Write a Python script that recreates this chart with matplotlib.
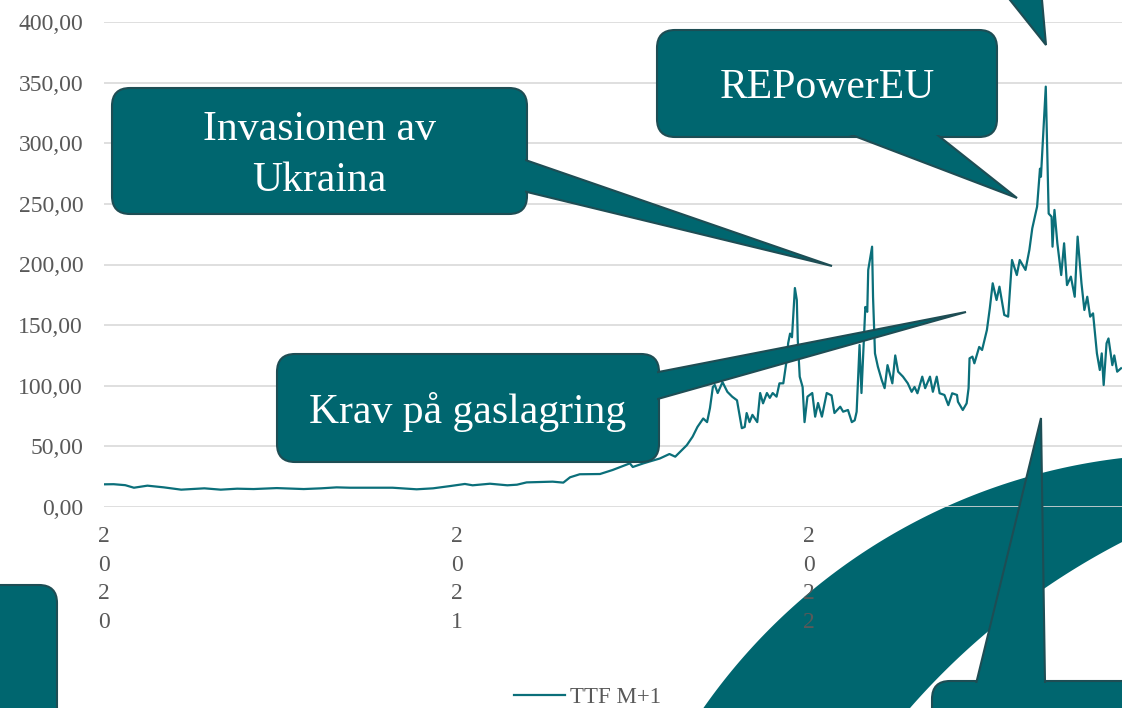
import numpy as np
import pandas as pd
import matplotlib
matplotlib.use("Agg")
import matplotlib.pyplot as plt
from matplotlib.patches import FancyBboxPatch, Polygon
from matplotlib.ticker import FuncFormatter

plt.rcParams['font.family'] = ['Liberation Serif', 'DejaVu Serif']

# --- data: TTF M+1 (EUR/MWh) ---
dates = [
    '2020-01-01', '2020-01-11', '2020-01-23', '2020-02-01', '2020-02-15', '2020-03-03',
    '2020-03-21', '2020-04-14', '2020-05-01', '2020-05-18', '2020-06-04', '2020-06-28',
    '2020-07-26', '2020-08-13', '2020-08-29', '2020-09-12', '2020-10-06', '2020-10-26',
    '2020-11-20', '2020-12-07', '2020-12-25', '2021-01-09', '2021-01-17', '2021-02-04',
    '2021-02-22', '2021-03-04', '2021-03-14', '2021-03-28', '2021-04-10', '2021-04-21',
    '2021-04-28', '2021-05-08', '2021-05-29', '2021-06-11', '2021-06-29', '2021-07-02',
    '2021-07-13', '2021-07-30', '2021-08-09', '2021-08-15', '2021-08-27', '2021-09-02',
    '2021-09-07', '2021-09-13', '2021-09-17', '2021-09-20', '2021-09-23', '2021-09-25',
    '2021-09-28', '2021-10-03', '2021-10-08', '2021-10-13', '2021-10-18', '2021-10-23',
    '2021-10-26', '2021-10-28', '2021-10-31', '2021-11-03', '2021-11-08', '2021-11-11',
    '2021-11-14', '2021-11-18', '2021-11-21', '2021-11-24', '2021-11-28', '2021-12-01',
    '2021-12-05', '2021-12-09', '2021-12-10', '2021-12-12', '2021-12-14', '2021-12-17',
    '2021-12-19', '2021-12-20', '2021-12-22', '2021-12-25', '2021-12-27', '2021-12-30',
    '2022-01-04', '2022-01-07', '2022-01-10', '2022-01-14', '2022-01-19', '2022-01-24',
    '2022-01-27', '2022-02-02', '2022-02-05', '2022-02-10', '2022-02-14', '2022-02-17',
    '2022-02-19', '2022-02-22', '2022-02-24', '2022-02-28', '2022-03-02', '2022-03-03',
    '2022-03-07', '2022-03-08', '2022-03-10', '2022-03-13', '2022-03-17', '2022-03-20',
    '2022-03-23', '2022-03-28', '2022-03-31', '2022-04-03', '2022-04-08', '2022-04-13',
    '2022-04-17', '2022-04-20', '2022-04-23', '2022-04-28', '2022-05-01', '2022-05-06',
    '2022-05-09', '2022-05-13', '2022-05-16', '2022-05-21', '2022-05-25', '2022-05-29',
    '2022-06-03', '2022-06-04', '2022-06-09', '2022-06-13', '2022-06-15', '2022-06-16',
    '2022-06-19', '2022-06-21', '2022-06-26', '2022-06-29', '2022-07-04', '2022-07-07',
    '2022-07-10', '2022-07-14', '2022-07-17', '2022-07-22', '2022-07-26', '2022-07-30',
    '2022-08-04', '2022-08-07', '2022-08-13', '2022-08-17', '2022-08-20', '2022-08-25',
    '2022-08-28', '2022-08-29', '2022-09-03', '2022-09-06', '2022-09-09', '2022-09-10',
    '2022-09-12', '2022-09-15', '2022-09-19', '2022-09-22', '2022-09-25', '2022-09-29',
    '2022-10-03', '2022-10-06', '2022-10-10', '2022-10-13', '2022-10-16', '2022-10-19',
    '2022-10-22', '2022-10-26', '2022-10-29', '2022-10-31', '2022-11-02', '2022-11-05',
    '2022-11-07', '2022-11-11', '2022-11-13', '2022-11-16', '2022-11-20',
]
ttf = [
    18.7, 18.8, 18.0, 15.9, 17.6, 16.2,
    14.3, 15.4, 14.3, 15.1, 14.8, 15.6,
    14.8, 15.4, 16.2, 15.9, 15.9, 15.9,
    14.6, 15.4, 17.3, 19.0, 17.9, 19.2,
    17.9, 18.4, 20.3, 20.6, 20.9, 20.1,
    24.5, 27.0, 27.2, 30.5, 36.0, 33.0,
    36.0, 40.0, 43.7, 41.5, 51.0, 58.0,
    66.0, 73.0, 70.0, 81.6, 99.0, 100.6,
    94.0, 103.0, 95.0, 91.0, 88.0, 65.0,
    66.0, 77.5, 70.0, 76.0, 70.0, 94.0,
    85.5, 94.0, 90.0, 94.0, 91.0, 102.0,
    102.0, 124.0, 135.0, 143.0, 140.0, 180.6,
    170.7, 137.7, 107.5, 99.0, 70.0, 91.0,
    94.0, 74.5, 85.8, 74.5, 94.0, 92.0,
    77.5, 82.7, 78.6, 80.0, 70.0, 71.5,
    78.6, 133.6, 94.0, 165.0, 161.0, 195.5,
    214.7, 173.0, 126.7, 115.7, 104.7, 98.0,
    117.0, 102.0, 125.0, 111.6, 107.5, 102.0,
    95.0, 99.0, 93.8, 107.5, 98.0, 107.5,
    95.0, 107.5, 93.8, 92.4, 84.0, 93.8,
    92.4, 86.8, 80.0, 85.5, 98.0, 122.6,
    124.0, 118.5, 132.0, 129.5, 146.0, 163.9,
    184.5, 170.7, 181.7, 158.4, 157.0, 203.7,
    191.3, 203.7, 195.5, 212.0, 229.8, 247.7,
    279.0, 272.4, 346.7, 242.0, 239.4, 214.7,
    245.0, 217.5, 191.3, 217.5, 183.0, 190.0,
    173.4, 223.0, 184.5, 162.5, 173.4, 157.0,
    159.7, 126.7, 113.0, 126.7, 100.6, 135.0,
    139.0, 117.0, 125.0, 111.6, 114.4,
]
year_ticks = ['2020', '2021', '2022']
series_name = 'TTF M+1'

TEAL = '#00666f'
EDGE = '#1e4d54'
LINE = '#0b6f7a'
GREY = '#595959'
W, H = 1122, 708


def callout(ax, x0, y0, x1, y1, tail=None, text=None, r=18):
    """rounded box + wedge tail, in pixel coords of the overlay axes"""
    style = f"round,pad=0,rounding_size={r}"
    ax.add_patch(FancyBboxPatch((x0, y0), x1 - x0, y1 - y0, boxstyle=style,
                                fc=TEAL, ec=EDGE, lw=1.5, zorder=1))
    if tail is not None:
        ax.add_patch(Polygon(tail, closed=True, fc=TEAL, ec=EDGE, lw=1.5,
                             joinstyle='miter', zorder=2))
        # cover the tail edges that fall inside the box
        ax.add_patch(FancyBboxPatch((x0 + 2, y0 + 2), x1 - x0 - 4, y1 - y0 - 4,
                                    boxstyle=f"round,pad=0,rounding_size={r - 2}",
                                    fc=TEAL, ec='none', zorder=3))
    if text:
        ax.text((x0 + x1) / 2, (y0 + y1) / 2 + 4, text, ha='center', va='center',
                color='white', fontsize=30, linespacing=1.44, zorder=4)


fig = plt.figure(figsize=(W / 100, H / 100), dpi=100, facecolor='white')

# background layer (the big arc sits behind the chart)
ax_bg = fig.add_axes([0, 0, 1, 1], zorder=0)
ax_bg.set_xlim(0, W)
ax_bg.set_ylim(H, 0)
ax_bg.axis('off')
t_out = np.radians(np.linspace(80, 152, 120))
t_in = np.radians(np.linspace(147, 100, 120))
arc = np.vstack([
    np.column_stack([1191 + 595 * np.cos(t_out), 1049 - 595 * np.sin(t_out)]),
    np.column_stack([1452 + 720 * np.cos(t_in), 1182 - 720 * np.sin(t_in)]),
])
ax_bg.add_patch(Polygon(arc, closed=True, fc=TEAL, ec='none'))

# the chart itself
ax = fig.add_axes([104 / W, 1 - 507 / H, (W - 104) / W, (507 - 22) / H], zorder=1)
ax.set_facecolor('none')
x = pd.to_datetime(dates)
ax.plot(x, ttf, color=LINE, lw=1.6, label=series_name, zorder=3)

ax.set_ylim(0, 400)
ax.set_yticks(np.arange(0, 401, 50))
ax.yaxis.set_major_formatter(FuncFormatter(lambda v, p: f"{v:.2f}".replace('.', ',')))
ax.set_xlim(pd.Timestamp('2020-01-01'), pd.Timestamp('2022-11-21'))
ax.set_xticks(pd.to_datetime([y + '-01-01' for y in year_ticks]))
ax.set_xticklabels(['\n'.join(y) for y in year_ticks])
for lab in ax.get_xticklabels():
    lab.set_linespacing(1.47)
    lab.set_va('top')

ax.grid(axis='y', color='#d9d9d9', lw=1.2)
ax.set_axisbelow(True)
for s in ax.spines.values():
    s.set_visible(False)
ax.tick_params(axis='both', length=0, labelsize=17, labelcolor=GREY)
ax.tick_params(axis='y', pad=15)
ax.tick_params(axis='x', pad=14)

fig.legend(loc='center', bbox_to_anchor=(587.5 / W, 1 - 697 / H), frameon=False,
           fontsize=16.5, labelcolor=GREY, handlelength=2.26, handletextpad=0.22,
           borderpad=0)

# foreground layer with the speech bubbles
ax_fg = fig.add_axes([0, 0, 1, 1], zorder=2)
ax_fg.set_xlim(0, W)
ax_fg.set_ylim(H, 0)
ax_fg.axis('off')

callout(ax_fg, 112, 88, 527, 214,
        tail=[(510, 154.7), (832, 266), (510, 187.9)], text='Invasionen av\nUkraina')
callout(ax_fg, 657, 30, 997, 137,
        tail=[(825.5, 125), (1017, 198), (924.9, 125)], text='REPowerEU')
callout(ax_fg, 277, 354, 659, 462,
        tail=[(640, 375.6), (966, 312), (640, 404)], text='Krav på gaslagring')
# bubbles mostly outside the canvas
ax_fg.add_patch(Polygon([(962, -60), (1046, 45), (1036.7, -60)], closed=True,
                        fc=TEAL, ec=EDGE, lw=1.5, zorder=2))
callout(ax_fg, -300, 585, 57, 900)
callout(ax_fg, 932, 681, 1400, 1000,
        tail=[(973.3, 695), (1041, 418), (1045.2, 695)])

fig.savefig('out.png', dpi=100, facecolor='white')
